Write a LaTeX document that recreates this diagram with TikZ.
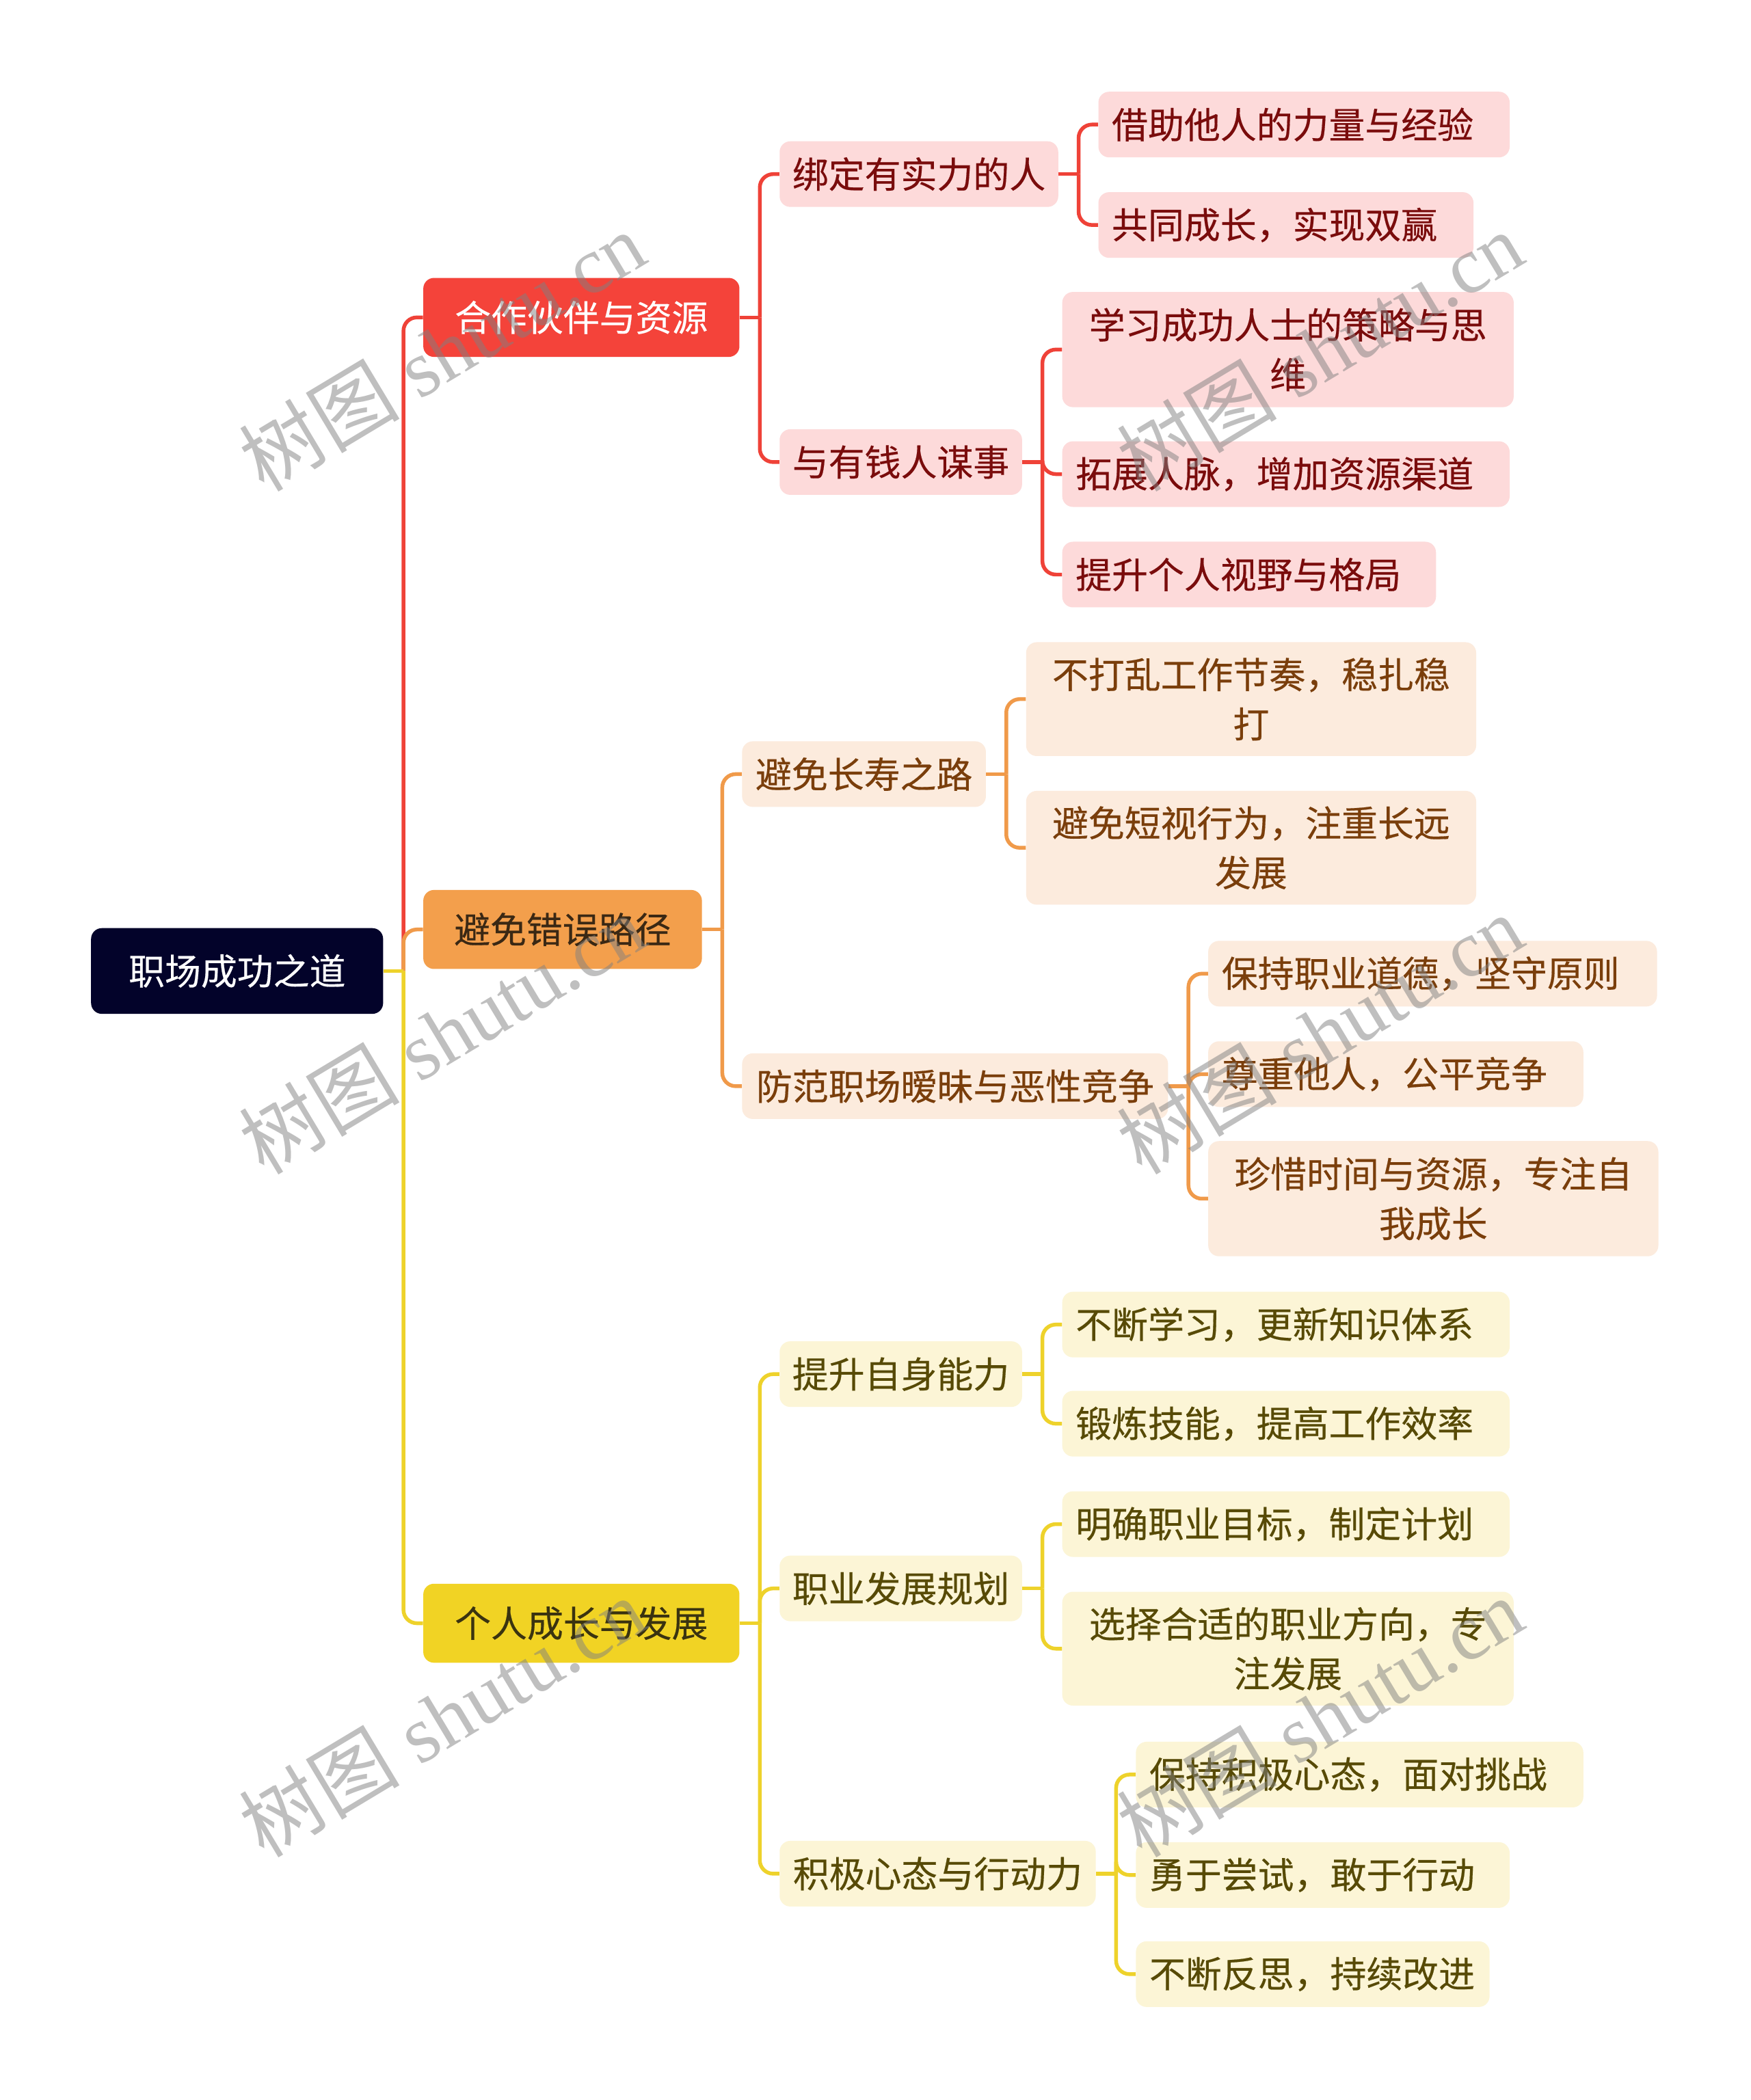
\documentclass[tikz,border=0pt]{standalone}
\usepackage{fontspec}
\newfontfamily\cjk[RawFeature={embolden=0.35}]{Noto Sans CJK SC}
\newfontfamily\cjkwm{Noto Sans CJK SC}
\newfontfamily\wmserif{Liberation Serif}
\usetikzlibrary{calc}
\definecolor{rootc}{HTML}{03032A}
\definecolor{redA}{HTML}{F4433A}
\definecolor{redL}{HTML}{EF4238}
\definecolor{redF}{HTML}{FDDADA}
\definecolor{redT}{HTML}{7A0C0C}
\definecolor{orgA}{HTML}{F39F4C}
\definecolor{orgL}{HTML}{F09A4A}
\definecolor{orgF}{HTML}{FCEBDD}
\definecolor{orgT}{HTML}{7A3E0B}
\definecolor{orgAT}{HTML}{3A2814}
\definecolor{yelA}{HTML}{F1D324}
\definecolor{yelL}{HTML}{EED22B}
\definecolor{yelF}{HTML}{FCF5D6}
\definecolor{yelT}{HTML}{574A06}
\definecolor{yelAT}{HTML}{3A3310}
\pgfdeclarelayer{bg}
\pgfsetlayers{bg,main}
\tikzset{
  box/.style={rounded corners=8pt, inner sep=0pt, align=center, font=\cjk\fontsize{27}{37}\selectfont},
  rootbox/.style={box, fill=rootc, text=white},
  redtop/.style={box, fill=redA, text=white},
  orgtop/.style={box, fill=orgA, text=orgAT},
  yeltop/.style={box, fill=yelA, text=yelAT},
  redsub/.style={box, fill=redF, text=redT},
  orgsub/.style={box, fill=orgF, text=orgT},
  yelsub/.style={box, fill=yelF, text=yelT},
  link/.style={line width=2.8pt, rounded corners=10pt},
  wm/.style={text=black!50, opacity=0.5, rotate=31, font=\wmserif\fontsize{60}{60}\selectfont}
}
\newcommand\mnode[7]{\node[#2, minimum width={#4-#3}, minimum height=#6] (#1) at ({(#3+#4)/2},#5) {#7};}
% single-line leaf: text left-aligned with a 10pt inset
\newcommand\lnode[7]{\pgfmathsetmacro\leafw{#4-#3-20}\node[#2, minimum width={#4-#3}, minimum height=#6] (#1) at ({(#3+#4)/2},#5) {\makebox[\leafw pt][l]{#7}};}
\begin{document}
\begin{tikzpicture}[x=1pt,y=-1pt]
\begin{pgfonlayer}{bg}
\fill[white] (0,0) rectangle (1307,1568);
\end{pgfonlayer}
\useasboundingbox (0,0) rectangle (1307,1568);

% root and level 1
\mnode{root}{rootbox}{68}{286}{725}{64}{职场成功之道}
\mnode{A}{redtop}{316}{552}{237}{59}{合作伙伴与资源}
\mnode{B}{orgtop}{316}{524}{694}{59}{避免错误路径}
\mnode{C}{yeltop}{316}{552}{1212}{59}{个人成长与发展}

% red branch
\mnode{A1}{redsub}{582}{790}{130}{49}{绑定有实力的人}
\mnode{A2}{redsub}{582}{763}{345}{49}{与有钱人谋事}
\lnode{A11}{redsub}{820}{1127}{93}{49}{借助他人的力量与经验}
\lnode{A12}{redsub}{820}{1100}{168}{49}{共同成长，实现双赢}
\mnode{A21}{redsub}{793}{1130}{261}{86}{学习成功人士的策略与思\\维}
\lnode{A22}{redsub}{793}{1127}{354}{49}{拓展人脉，增加资源渠道}
\lnode{A23}{redsub}{793}{1072}{429}{49}{提升个人视野与格局}

% orange branch
\mnode{B1}{orgsub}{554}{736}{578}{49}{避免长寿之路}
\mnode{B2}{orgsub}{554}{872}{811}{49}{防范职场暧昧与恶性竞争}
\mnode{B11}{orgsub}{766}{1102}{522}{85}{不打乱工作节奏，稳扎稳\\打}
\mnode{B12}{orgsub}{766}{1102}{633}{85}{避免短视行为，注重长远\\发展}
\lnode{B21}{orgsub}{902}{1237}{727}{49}{保持职业道德，坚守原则}
\lnode{B22}{orgsub}{902}{1182}{802}{49}{尊重他人，公平竞争}
\mnode{B23}{orgsub}{902}{1238}{895}{86}{珍惜时间与资源，专注自\\我成长}

% yellow branch
\mnode{C1}{yelsub}{582}{763}{1026}{49}{提升自身能力}
\mnode{C2}{yelsub}{582}{763}{1186}{49}{职业发展规划}
\mnode{C3}{yelsub}{582}{818}{1399}{49}{积极心态与行动力}
\lnode{C11}{yelsub}{793}{1127}{989}{49}{不断学习，更新知识体系}
\lnode{C12}{yelsub}{793}{1127}{1063}{49}{锻炼技能，提高工作效率}
\lnode{C21}{yelsub}{793}{1127}{1138}{49}{明确职业目标，制定计划}
\mnode{C22}{yelsub}{793}{1130}{1231}{85}{选择合适的职业方向，专\\注发展}
\lnode{C31}{yelsub}{848}{1182}{1325}{49}{保持积极心态，面对挑战}
\lnode{C32}{yelsub}{848}{1127}{1400}{49}{勇于尝试，敢于行动}
\lnode{C33}{yelsub}{848}{1112}{1474}{49}{不断反思，持续改进}

% junctions
\coordinate (j0) at ($(root.east)+(15,0)$);
\coordinate (jA) at ($(A.east)+(15,0)$);
\coordinate (jB) at ($(B.east)+(15,0)$);
\coordinate (jC) at ($(C.east)+(15,0)$);
\coordinate (jA1) at ($(A1.east)+(15,0)$);
\coordinate (jA2) at ($(A2.east)+(15,0)$);
\coordinate (jB1) at ($(B1.east)+(15,0)$);
\coordinate (jB2) at ($(B2.east)+(15,0)$);
\coordinate (jC1) at ($(C1.east)+(15,0)$);
\coordinate (jC2) at ($(C2.east)+(15,0)$);
\coordinate (jC3) at ($(C3.east)+(15,0)$);

\begin{pgfonlayer}{bg}
% level 1
\draw[link, redL] (j0) |- (A.west);
\draw[link, orgL] (j0) |- (B.west);
\draw[link, yelL] (j0) |- (C.west);
\draw[link, yelL] (root.east) -- (j0);
% red
\draw[link, redL] (A.east) -- (jA);
\draw[link, redL] (jA) |- (A1.west);
\draw[link, redL] (jA) |- (A2.west);
\draw[link, redL] (A1.east) -- (jA1);
\draw[link, redL] (jA1) |- (A11.west);
\draw[link, redL] (jA1) |- (A12.west);
\draw[link, redL] (A2.east) -- (jA2);
\draw[link, redL] (jA2) |- (A21.west);
\draw[link, redL] (jA2) |- (A22.west);
\draw[link, redL] (jA2) |- (A23.west);
% orange
\draw[link, orgL] (B.east) -- (jB);
\draw[link, orgL] (jB) |- (B1.west);
\draw[link, orgL] (jB) |- (B2.west);
\draw[link, orgL] (B1.east) -- (jB1);
\draw[link, orgL] (jB1) |- (B11.west);
\draw[link, orgL] (jB1) |- (B12.west);
\draw[link, orgL] (B2.east) -- (jB2);
\draw[link, orgL] (jB2) |- (B21.west);
\draw[link, orgL] (jB2) |- (B22.west);
\draw[link, orgL] (jB2) |- (B23.west);
% yellow
\draw[link, yelL] (C.east) -- (jC);
\draw[link, yelL] (jC) |- (C1.west);
\draw[link, yelL] (jC) |- (C2.west);
\draw[link, yelL] (jC) |- (C3.west);
\draw[link, yelL] (C1.east) -- (jC1);
\draw[link, yelL] (jC1) |- (C11.west);
\draw[link, yelL] (jC1) |- (C12.west);
\draw[link, yelL] (C2.east) -- (jC2);
\draw[link, yelL] (jC2) |- (C21.west);
\draw[link, yelL] (jC2) |- (C22.west);
\draw[link, yelL] (C3.east) -- (jC3);
\draw[link, yelL] (jC3) |- (C31.west);
\draw[link, yelL] (jC3) |- (C32.west);
\draw[link, yelL] (jC3) |- (C33.west);
\end{pgfonlayer}

% watermarks
\node[wm] (w1) at (330,262) {{\cjkwm 树图} shutu.cn};
\node[wm] (w2) at (330,772) {{\cjkwm 树图} shutu.cn};
\node[wm] (w3) at (330,1282) {{\cjkwm 树图} shutu.cn};
\node[wm] (w4) at (985,262) {{\cjkwm 树图} shutu.cn};
\node[wm] (w5) at (985,772) {{\cjkwm 树图} shutu.cn};
\node[wm] (w6) at (985,1282) {{\cjkwm 树图} shutu.cn};
\end{tikzpicture}
\end{document}
